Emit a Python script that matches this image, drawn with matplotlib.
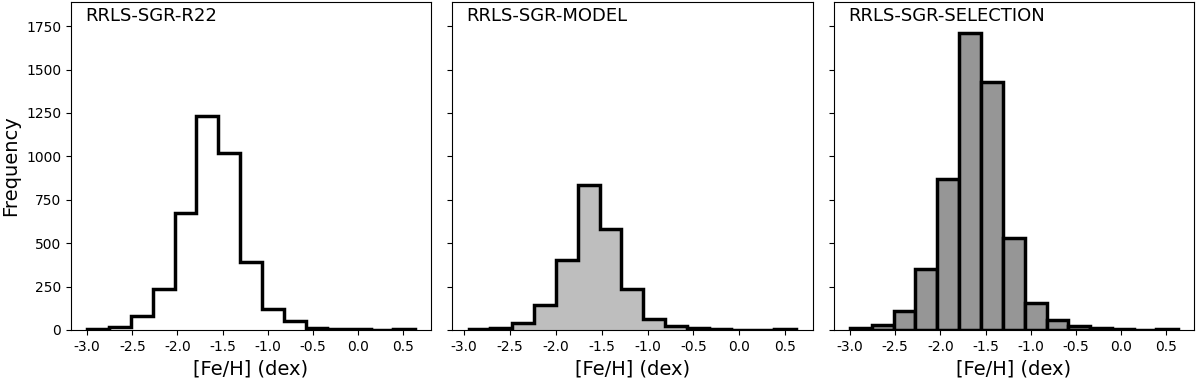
import numpy as np
import matplotlib
matplotlib.use("Agg")
import matplotlib.pyplot as plt

# Bin ranges (data min / max) and counts for each sample (15 bins each)
r22_range = [-3.0, 0.63]
r22_counts = [8, 15, 83, 238, 674, 1234, 1017, 392, 119, 52, 12, 8, 4, 2, 3]

model_range = [-2.95, 0.62]
model_counts = [6, 13, 38, 146, 405, 837, 583, 234, 65, 23, 12, 6, 2, 2, 4]

sel_range = [-3.0, 0.625]
sel_counts = [13, 29, 107, 351, 871, 1708, 1428, 530, 154, 58, 21, 10, 6, 2, 4]

titles = ["RRLS-SGR-R22", "RRLS-SGR-MODEL", "RRLS-SGR-SELECTION"]
xticks = [-3.0, -2.5, -2.0, -1.5, -1.0, -0.5, 0.0, 0.5]
yticks = [0, 250, 500, 750, 1000, 1250, 1500, 1750]

fig, axes = plt.subplots(1, 3, figsize=(12, 3.78), dpi=100, sharey=True)
fig.subplots_adjust(left=0.059, right=0.995, top=0.995, bottom=0.127, wspace=0.058)

def edges(rng, n):
    return np.linspace(rng[0], rng[1], n + 1)

# Panel 1: step outline
ax = axes[0]
ax.stairs(r22_counts, edges(r22_range, len(r22_counts)), color="black", linewidth=2.5)

# Panel 2: stepfilled light gray
ax = axes[1]
ax.stairs(model_counts, edges(model_range, len(model_counts)), fill=True,
          facecolor="#bebebe", edgecolor="none")
ax.stairs(model_counts, edges(model_range, len(model_counts)), color="black", linewidth=2.5)

# Panel 3: individual bars
ax = axes[2]
e = edges(sel_range, len(sel_counts))
ax.bar(e[:-1], sel_counts, width=np.diff(e), align="edge", color="#969696",
       edgecolor="black", linewidth=2.5)

for ax, t in zip(axes, titles):
    ax.set_xticks(xticks)
    ax.set_xticklabels([f"{v:.1f}" for v in xticks])
    ax.set_xlabel("[Fe/H] (dex)", fontsize=14)
    ax.text(0.04, 0.985, t, transform=ax.transAxes, ha="left", va="top", fontsize=13)
    ax.margins(x=0.05)
    ax.tick_params(labelsize=10)

axes[0].set_ylim(0, 1890)
axes[0].set_yticks(yticks)
axes[0].set_ylabel("Frequency", fontsize=14)

fig.savefig("out.png", dpi=100)
